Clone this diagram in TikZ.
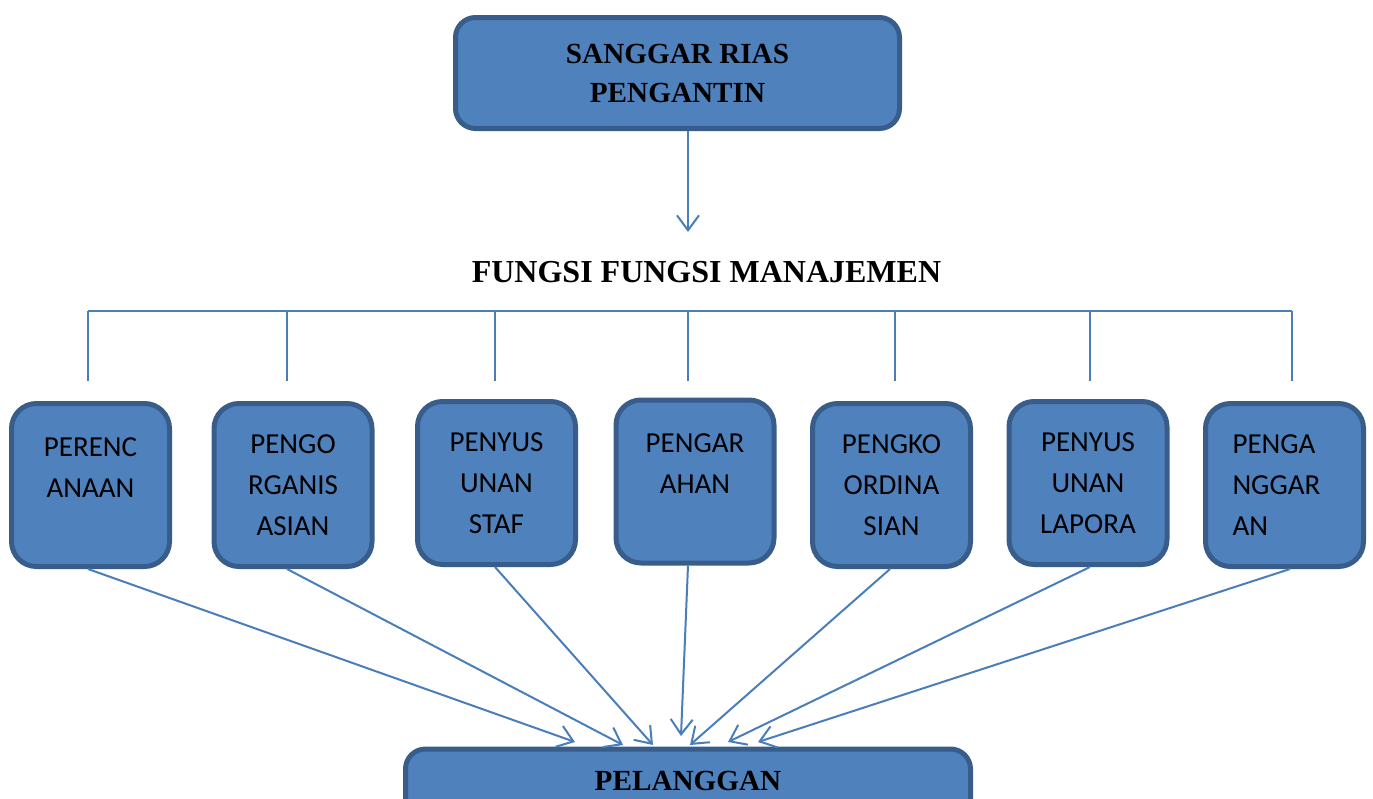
\documentclass[tikz,border=0pt]{standalone}
\usepackage{fontspec}
\setmainfont{Liberation Serif}
\newfontfamily\boxfont{Carlito}
\usepackage{tikz}
\usetikzlibrary{arrows.meta}
\usetikzlibrary{calc}
\usetikzlibrary{positioning}
\definecolor{boxfill}{HTML}{4F81BD}
\definecolor{boxline}{HTML}{385D8A}
\definecolor{linkline}{HTML}{4A7EBB}
\tikzstyle{block} = [draw=boxline, fill=boxfill, line width=2.5pt, rounded corners=10pt,
    align=center, font=\fontsize{14.6}{19.5}\selectfont\bfseries]
\tikzstyle{fungsi} = [draw=boxline, fill=boxfill, line width=2.5pt, rounded corners=12.5pt,
    minimum width=79pt, minimum height=81.5pt, align=center,
    font=\boxfont\fontsize{14.5}{20.5}\selectfont]
\tikzstyle{link} = [draw=linkline, line width=1pt]

\begin{document}
\begin{tikzpicture}[x=0.5pt, y=-0.5pt, >={Straight Barb[length=7.5pt,width=11pt]}]
    \path[use as bounding box] (0,0) rectangle (1373,799);
    \clip (0,0) rectangle (1373,799);

    % We start by placing the blocks
    \node [block, minimum width=222pt, minimum height=55.5pt] (sanggar) at (677.5,73) {SANGGAR RIAS\\PENGANTIN};
    \node [font=\fontsize{16}{19}\selectfont\bfseries] (judul) at (706.5,272) {FUNGSI FUNGSI MANAJEMEN};

    \node [fungsi] (b1) at (90.5,485) {PERENC\\ANAAN\\[-9pt]\strut};
    \node [fungsi] (b2) at (293,485) {PENGO\\RGANIS\\ASIAN};
    \node [fungsi] (b3) at (496.5,483) {PENYUS\\UNAN\\STAF};
    \node [fungsi] (b4) at (695,481.5) {PENGAR\\AHAN\\[-9pt]\strut};
    \node [fungsi] (b5) at (891.5,485) {PENGKO\\ORDINA\\SIAN};
    \node [fungsi] (b6) at (1088,483) {PENYUS\\UNAN\\LAPORA};
    \node [fungsi, align=left, text width=52pt] (b7) at (1284.5,485) {PENGA\\NGGAR\\AN};

    \node [block, anchor=north, minimum width=282.5pt, text height=10pt, text depth=40pt,
        inner ysep=10.5pt] (pel) at (688,746.5) {PELANGGAN};

    % Once the nodes are placed, connecting them is easy.
    \coordinate (turun) at (688,232);
    \draw [link,->] (sanggar.south -| turun) -- (turun);

    \coordinate (busleft) at (88,311);
    \coordinate (busright) at (1292,311);
    \draw [link] (busleft) -- (busright);
    \foreach \x/\n in {88/1, 287/2, 495/3, 688/4, 895/5, 1090/6, 1292/7} {
        \coordinate (t\n) at (\x,381);
        \draw [link] (t\n |- busleft) -- (t\n);
    }

    \foreach \n/\sx/\dx/\dy in {1/-2.5/-113/-4.5, 2/-6/-65/-1.5, 3/-1.5/-35/-1.5, 4/-7/-7/-10.5,
        5/-1.5/2/-1.5, 6/2/40/-4.5, 7/5.5/70/-4.5}
        \draw [link,->] ($(b\n.south)+(\sx,0)$) -- ($(pel.north)+(\dx,\dy)$);
\end{tikzpicture}
\end{document}
